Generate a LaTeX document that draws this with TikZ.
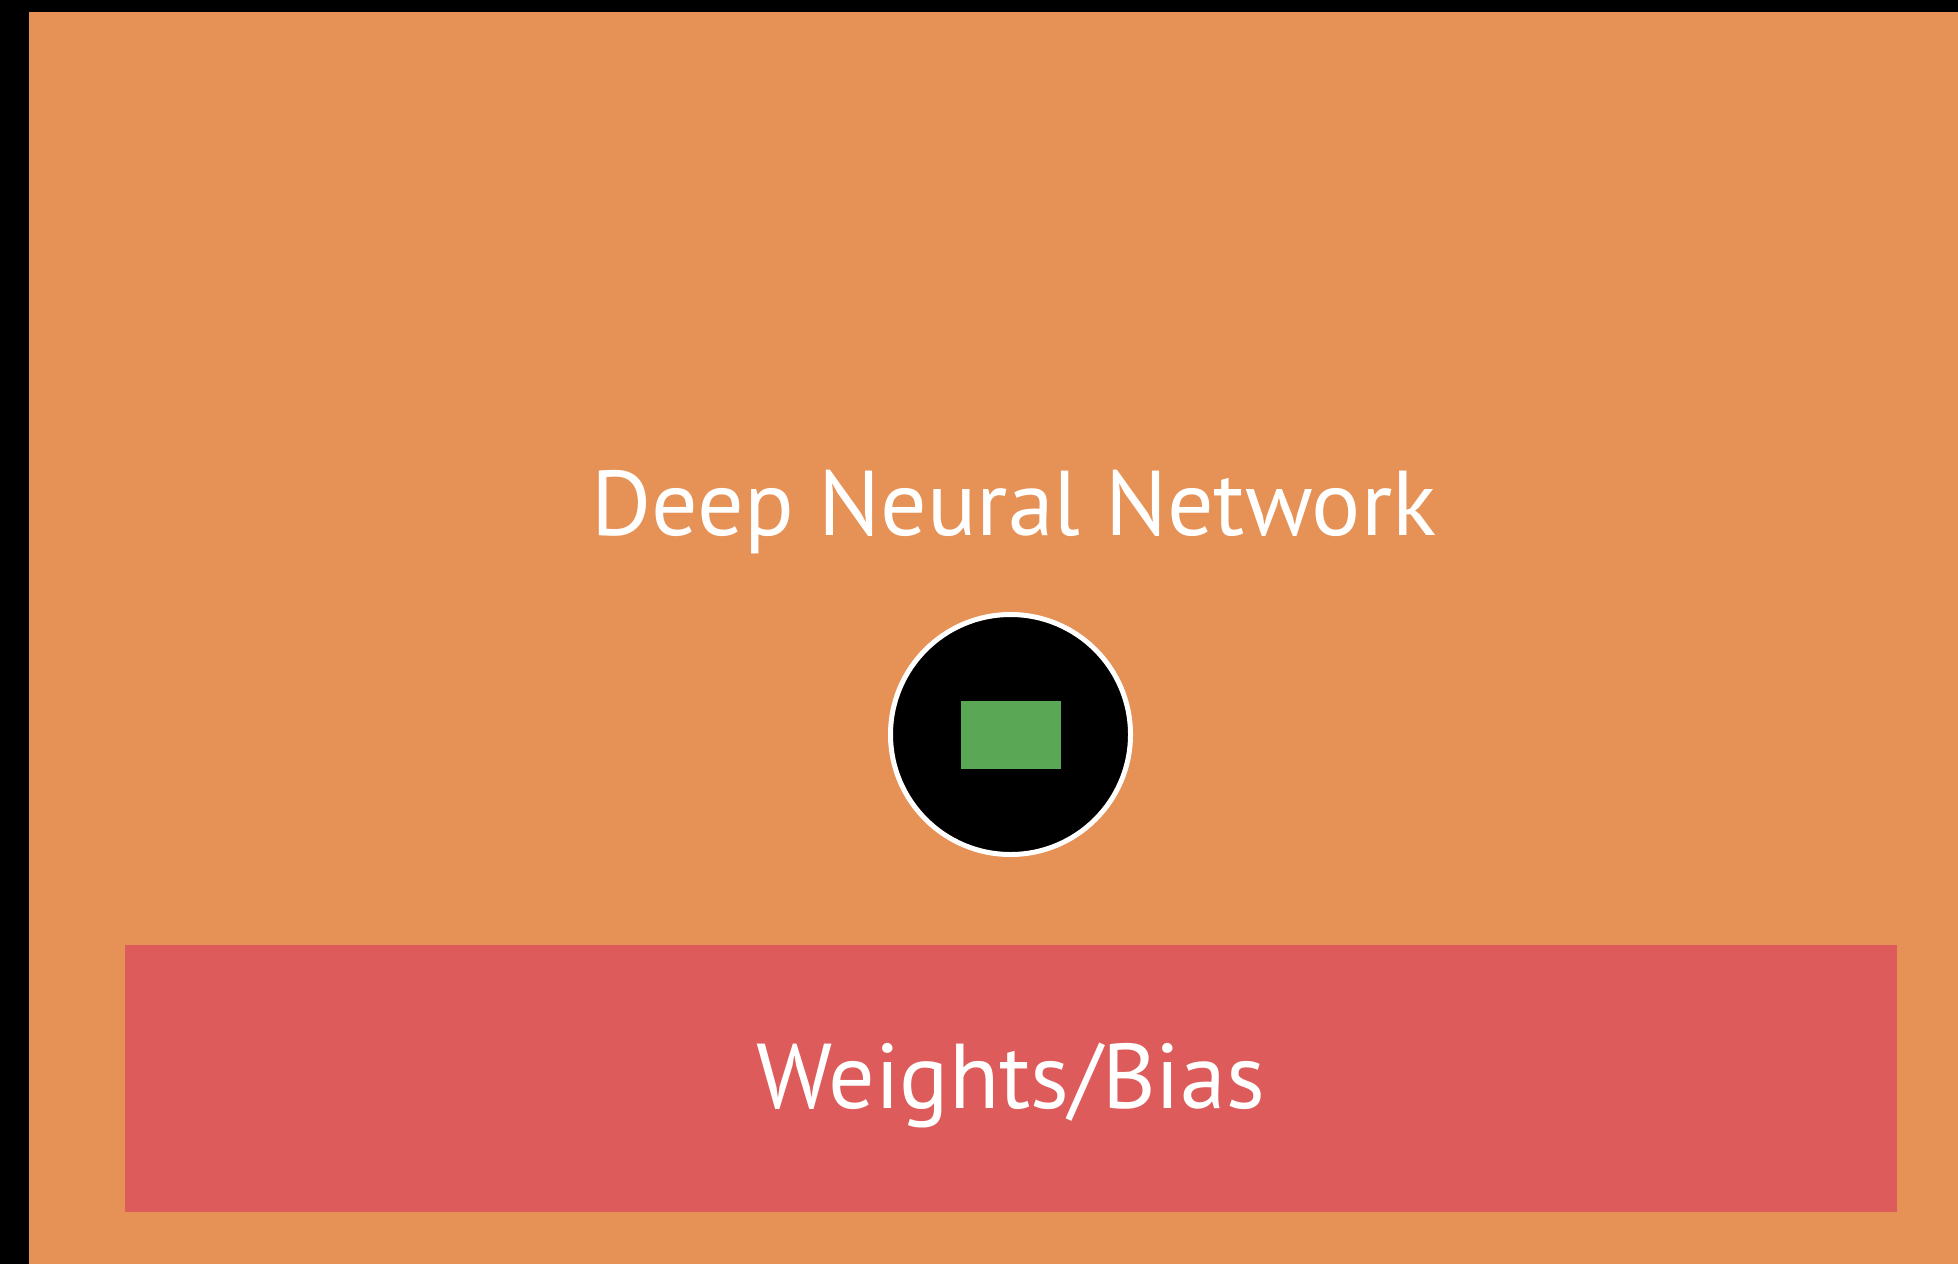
\documentclass[tikz,border=0pt]{standalone}
\usepackage{fontspec}
\setmainfont{PT Sans}
\definecolor{bgorange}{HTML}{E69155}
\definecolor{wbred}{HTML}{DD5B5B}
\definecolor{cellgreen}{HTML}{5AA855}
\begin{document}
\begin{tikzpicture}[x=0.5pt,y=-0.5pt,
  label/.style={text=white,font=\fontsize{46}{55}\selectfont,inner sep=0pt,anchor=base}]
  \useasboundingbox (0,0) rectangle (1958,1264);
  % frame and background
  \fill[black] (0,0) rectangle (1958,1264);
  \fill[bgorange] (29,12) rectangle (1958,1264);
  % weights/bias block
  \fill[wbred] (125,945) rectangle (1897,1212);
  \node[label] (wb) at (1010.5,1108) {Weights/Bias};
  % title
  \node[label] (title) at (1014,535) {Deep Neural Network};
  % neuron
  \node[circle,fill=black,draw=white,line width=2.5pt,minimum size=120pt,inner sep=0pt] (neuron) at (1010.5,734.5) {};
  \node[fill=cellgreen,minimum width=50pt,minimum height=34pt,inner sep=0pt] (cell) at (neuron.center) {};
\end{tikzpicture}
\end{document}
